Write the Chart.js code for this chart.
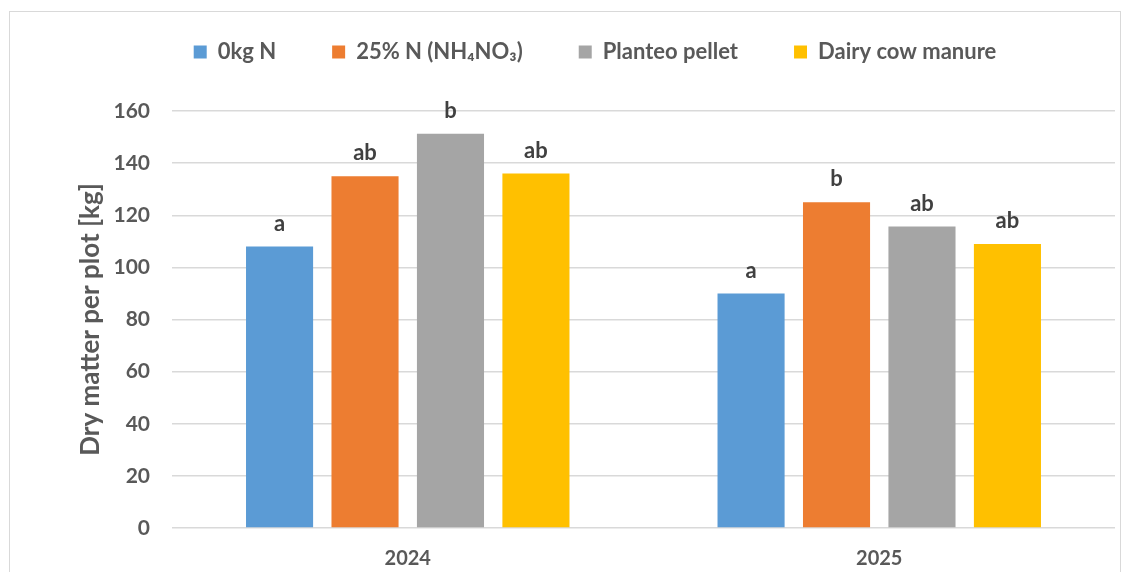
<!DOCTYPE html>
<html lang="en">
<head>
    <meta charset="UTF-8">
    <title>Dry matter per plot</title>
    <script src="https://cdn.jsdelivr.net/npm/chart.js@4.4.1/dist/chart.umd.min.js"></script>
    <style>
        body { margin: 0; background: #fff; }
        #frame { position: absolute; left: 9px; top: 11px; width: 1110px; height: 620px; border: 1px solid #d9d9d9; }
        #chart { position: absolute; left: 0; top: 0; }
    </style>
</head>
<body>
    <div id="frame"></div>
    <canvas id="chart" width="1130" height="572"></canvas>
    <script>
        // Data
        const years = ['2024', '2025'];
        const seriesNames = ['0kg N', '25% N (NH\u2084NO\u2083)', 'Planteo pellet', 'Dairy cow manure'];
        const noFert = [108, 90];
        const ammonium = [135, 125];
        const planteo = [151.3, 115.7];
        const manure = [136, 109];
        const letters = [['a', 'a'], ['ab', 'b'], ['b', 'ab'], ['ab', 'ab']];
        const yTicks = [0, 20, 40, 60, 80, 100, 120, 140, 160];

        const colors = ['#5B9BD5', '#ED7D31', '#A5A5A5', '#FFC000'];
        const FONT = 'Lato, "Open Sans", sans-serif';

        // letters above each bar
        const letterPlugin = {
            id: 'letters',
            afterDatasetsDraw(chart) {
                const ctx = chart.ctx;
                ctx.save();
                ctx.font = 'bold 22px ' + FONT;
                ctx.fillStyle = '#404040';
                ctx.textAlign = 'center';
                ctx.textBaseline = 'bottom';
                chart.data.datasets.forEach((ds, i) => {
                    chart.getDatasetMeta(i).data.forEach((bar, j) => {
                        ctx.fillText(letters[i][j], bar.x, bar.y - 12);
                    });
                });
                ctx.restore();
            }
        };

        const allValues = [noFert, ammonium, planteo, manure];
        new Chart(document.getElementById('chart'), {
            type: 'bar',
            data: {
                labels: years,
                datasets: allValues.map((vals, i) => ({
                    label: seriesNames[i],
                    data: vals,
                    backgroundColor: colors[i],
                    categoryPercentage: 0.725,
                    barPercentage: 0.785
                }))
            },
            options: {
                responsive: false,
                animation: false,
                layout: { padding: { top: -15, right: 15, bottom: 0, left: 75 } },
                plugins: {
                    legend: {
                        position: 'top',
                        labels: {
                            boxWidth: 13,
                            boxHeight: 13,
                            padding: 56,
                            color: '#595959',
                            font: { family: FONT, size: 22, weight: 'bold' }
                        }
                    },
                    tooltip: { enabled: false }
                },
                scales: {
                    x: {
                        grid: { display: false },
                        border: { display: false },
                        afterFit(s) { s.height = 44; },
                        ticks: {
                            color: '#595959',
                            padding: 11,
                            font: { family: FONT, size: 20, weight: 'bold' }
                        }
                    },
                    // empty top axis, only keeps room between legend and plot
                    gap: {
                        type: 'category',
                        position: 'top',
                        grid: { display: false },
                        border: { display: false },
                        ticks: { display: false },
                        afterFit(s) { s.height = 38; }
                    },
                    y: {
                        min: 0,
                        max: 160,
                        afterBuildTicks(axis) { axis.ticks = yTicks.map(v => ({ value: v })); },
                        afterFit(s) { s.width = 172 - 75; },
                        grid: { color: '#d9d9d9', lineWidth: 1.5, drawTicks: false },
                        border: { display: false },
                        ticks: {
                            color: '#595959',
                            padding: 22,
                            font: { family: FONT, size: 21, weight: 'bold' }
                        },
                        title: {
                            display: true,
                            text: 'Dry matter per plot [kg]',
                            color: '#595959',
                            padding: { top: 0, bottom: 0 },
                            font: { family: FONT, size: 26, weight: 'bold' }
                        }
                    }
                }
            },
            plugins: [letterPlugin]
        });
    </script>
</body>
</html>
